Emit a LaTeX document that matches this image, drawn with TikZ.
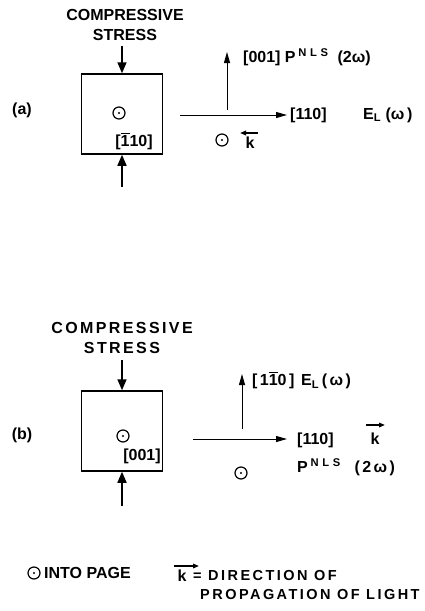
\documentclass[tikz,border=0pt]{standalone}
\usepackage{amsmath}
\usepackage{fontspec}
\setmainfont{Liberation Sans}
\usetikzlibrary{arrows.meta,positioning}
\newcommand{\barone}{$\overline{\text{1}}$}
\newcommand{\nls}{\textsuperscript{N\,\,L\,\,S}}

\begin{document}
\begin{tikzpicture}[x=1pt, y=-1pt,
    lbl/.style={font=\fontsize{16}{20}\selectfont\bfseries, inner sep=0pt},
    wide/.style={font=\fontsize{16}{20}\selectfont\bfseries\addfontfeature{LetterSpace=15}, inner sep=0pt},
    legend/.style={font=\fontsize{14.5}{19}\selectfont\bfseries\addfontfeature{LetterSpace=17}, inner sep=0pt},
    crystal/.style={draw, line width=1.5pt, minimum width=81pt, minimum height=80pt, inner sep=0pt},
    outdot/.style={circle, draw, line width=1.2pt, minimum size=12pt, inner sep=0pt,
        path picture={\fill (path picture bounding box.center) circle (1.2pt);}},
    stress/.style={line width=1.6pt, -{Triangle[length=11pt,width=9pt]}},
    axis/.style={line width=1pt, -{Triangle[length=11pt,width=6pt]}},
    kvec/.style={line width=1.6pt, -{Triangle[length=6pt,width=4.5pt]}}
]
\useasboundingbox (0,0) rectangle (425,611);

% Case (a)
\node[lbl] (laba) at (22,110) {(a)};
\node[lbl, align=center] (stressa) at (125,25) {COMPRESSIVE\\STRESS};
\node[crystal] (boxa) at (122,114) {};
\node[outdot] (dota) at (119,113) {};
\node[lbl] (dira) at (134,141) {[\barone10]};
\coordinate (topa) at (122,46);
\coordinate (bota) at (122,187);
\draw[stress] (topa) -- (boxa.north);
\draw[stress] (bota) -- (boxa.south);

% Axes (a)
\coordinate (ha) at (180,115);
\coordinate (hatip) at (287,115);
\coordinate (va) at (227,110);
\coordinate (vatip) at (227,52);
\draw[axis] (ha) -- (hatip);
\draw[axis] (va) -- (vatip);
\node[lbl, anchor=west] (za) at (243,57) {[001] P\,\nls\ \ (2ω)};
\node[lbl, anchor=west] (xa) at (290,115) {[110]};
\node[lbl, anchor=west] (ela) at (363,115) {E$_{\text{L}}$\ (ω\,)};
\node[outdot] (kdota) at (222,140) {};
\node[lbl] (ka) at (250,143) {k};
\coordinate (katail) at (258,133);
\coordinate (kahead) at (240,133);
\draw[kvec] (katail) -- (kahead);

% Case (b)
\node[lbl] (labb) at (22,435) {(b)};
\node[wide, align=center] (stressb) at (122,338) {COMPRESSIVE\\STRESS};
\node[crystal] (boxb) at (122,431) {};
\node[outdot] (dotb) at (123,436) {};
\node[lbl] (dirb) at (142,456) {[001]};
\coordinate (topb) at (122,360);
\coordinate (botb) at (122,506);
\draw[stress] (topb) -- (boxb.north);
\draw[stress] (botb) -- (boxb.south);

% Axes (b)
\coordinate (hb) at (193,439);
\coordinate (hbtip) at (287,439);
\coordinate (vb) at (242,429);
\coordinate (vbtip) at (242,374);
\draw[axis] (hb) -- (hbtip);
\draw[axis] (vb) -- (vbtip);
\node[wide, anchor=west] (zb) at (252,380) {[1\barone0] E$_{\text{L}}$\,(ω)};
\node[lbl, anchor=west] (xb) at (297,440) {[110]};
\node[lbl] (kb) at (375,439) {k};
\coordinate (kbtail) at (366,425);
\coordinate (kbhead) at (385,425);
\draw[kvec] (kbtail) -- (kbhead);
\node[outdot] (kdotb) at (241,473) {};
\node[wide, anchor=west] (pb) at (297,467) {P\,\nls\ \ (2ω)};

% Legend
\node[outdot] (legdot) at (34,573) {};
\node[lbl, anchor=west] (legin) at (44,573) {INTO PAGE};
\node[lbl] (legk) at (182,576) {k};
\coordinate (legtail) at (174,566);
\coordinate (leghead) at (199,566);
\draw[kvec] (legtail) -- (leghead);
\node[legend, anchor=west] (legeq) at (193,576) {= DIRECTION OF};
\node[legend, anchor=west] (legprop) at (200,595) {PROPAGATION OF LIGHT};
\end{tikzpicture}
\end{document}
